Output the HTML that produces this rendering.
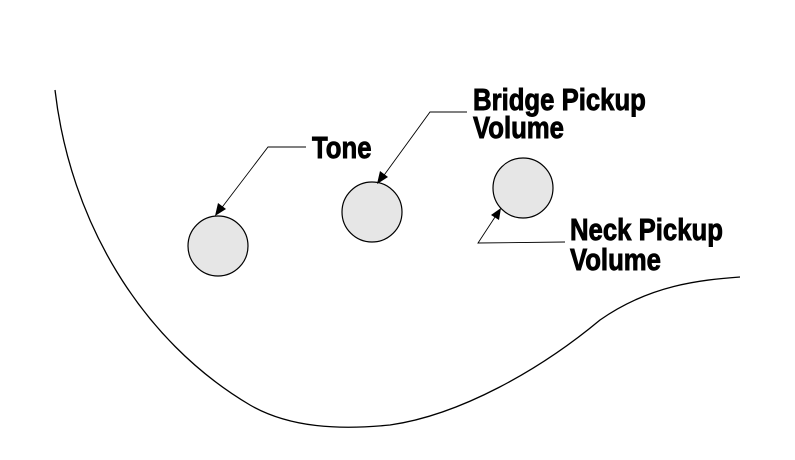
<!DOCTYPE html>
<html><head><style>
html,body{margin:0;padding:0;background:#fff;}
svg{display:block}
text{font-family:"Liberation Sans",sans-serif;font-weight:bold;font-size:31px;fill:#000;stroke:#000;stroke-width:0.9;}
</style></head><body>
<svg width="795" height="460" viewBox="0 0 795 460">
<path d="M55 90 C 70 220, 140 340, 250 405 C 290 428, 340 430, 390 425 C 460 415, 540 370, 600 320 C 650 285, 700 280, 740 277" fill="none" stroke="#000" stroke-width="1.3"/>
<circle cx="218" cy="246" r="30" fill="#e6e6e6" stroke="#000" stroke-width="1.2"/>
<circle cx="372" cy="212" r="30" fill="#e6e6e6" stroke="#000" stroke-width="1.2"/>
<circle cx="523" cy="188" r="30" fill="#e6e6e6" stroke="#000" stroke-width="1.2"/>
<g fill="none" stroke="#000" stroke-width="0.9">
<polyline points="306,147 268,147 220,210"/>
<polyline points="467,112 430,112 382,178"/>
<polyline points="565,242 478,243 497,214"/>
</g>
<g fill="#000">
<polygon points="215,216 218,203 226,209"/>
<polygon points="377,184 380,171 388,177"/>
<polygon points="501,208 491,215 499,220"/>
</g>
<text x="312" y="158" transform="translate(312 0) scale(0.83 1) translate(-312 0)">Tone</text>
<text x="473" y="110" transform="translate(473 0) scale(0.83 1) translate(-473 0)">Bridge Pickup</text>
<text x="473" y="138" transform="translate(473 0) scale(0.83 1) translate(-473 0)">Volume</text>
<text x="570" y="240" transform="translate(570 0) scale(0.83 1) translate(-570 0)">Neck Pickup</text>
<text x="570" y="270" transform="translate(570 0) scale(0.83 1) translate(-570 0)">Volume</text>
</svg>
</body></html>
